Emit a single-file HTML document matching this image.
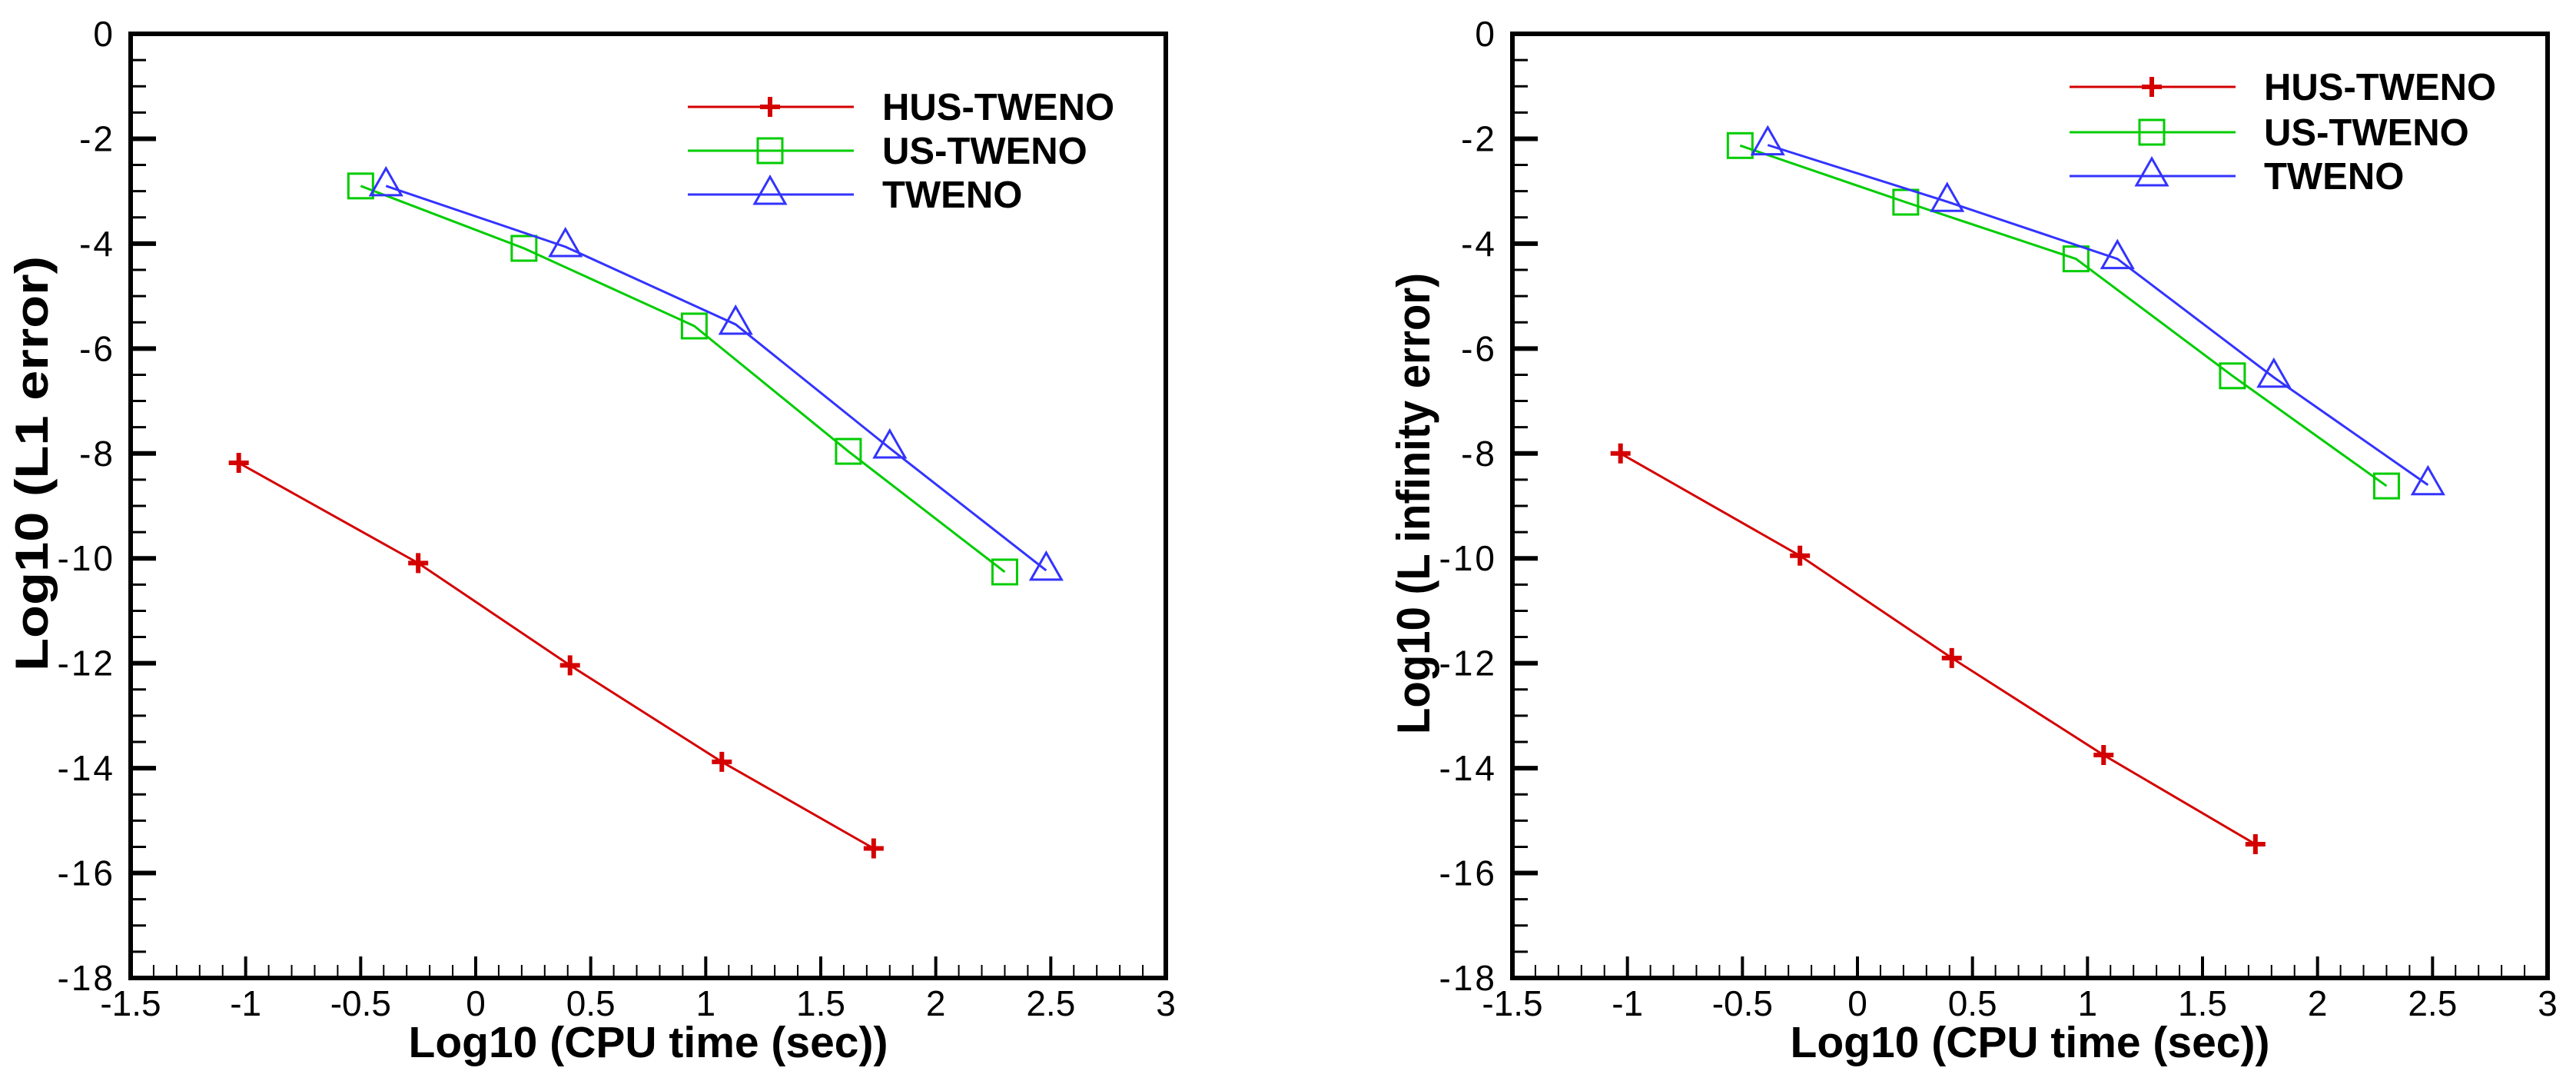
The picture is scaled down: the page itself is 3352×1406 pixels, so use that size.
<!DOCTYPE html>
<html><head><meta charset="utf-8"><style>
html,body{margin:0;padding:0;background:#fff;}
svg{display:block;font-family:"Liberation Sans",Arial,sans-serif;}
</style></head><body>
<svg id="chart" width="3352" height="1406" viewBox="0 0 3352 1406" xmlns="http://www.w3.org/2000/svg"></svg>
<script>
const xTicks = [-1.5,-1,-0.5,0,0.5,1,1.5,2,2.5,3];
const xTickLabels = ["-1.5","-1","-0.5","0","0.5","1","1.5","2","2.5","3"];
const yTicks = [0,-2,-4,-6,-8,-10,-12,-14,-16,-18];
const yTickLabels = ["0","-2","-4","-6","-8","-10","-12","-14","-16","-18"];
const seriesNames = ["HUS-TWENO","US-TWENO","TWENO"];
// left panel (L1 error)
const l1HusX = [-1.03,-0.25,0.41,1.07,1.73];
const l1HusY = [-8.18,-10.09,-12.04,-13.88,-15.53];
const l1UsX = [-0.5,0.21,0.95,1.62,2.3];
const l1UsY = [-2.9,-4.09,-5.57,-7.96,-10.26];
const l1TwX = [-0.39,0.39,1.13,1.8,2.48];
const l1TwY = [-2.9,-4.06,-5.54,-7.9,-10.23];
// right panel (L infinity error)
const liHusX = [-1.03,-0.25,0.41,1.07,1.73];
const liHusY = [-8.0,-9.95,-11.9,-13.75,-15.45];
const liUsX = [-0.51,0.21,0.95,1.63,2.3];
const liUsY = [-2.13,-3.21,-4.29,-6.52,-8.62];
const liTwX = [-0.39,0.39,1.13,1.81,2.48];
const liTwY = [-2.12,-3.2,-4.29,-6.55,-8.6];

const NS="http://www.w3.org/2000/svg";
const svg=document.getElementById('chart');
function mk(tag,attrs,parent){const e=document.createElementNS(NS,tag);for(const k in attrs)e.setAttribute(k,attrs[k]);(parent||svg).appendChild(e);return e;}
const colors=["#d40000","#00cc00","#3333ff"];

function drawPanel(x0,prefix,ytitle,ytx,yty,ylen,series){
  const x1=x0+1347, y0=44, y1=1272;
  const xs=v=>x0+(v-(-1.5))/(3-(-1.5))*(x1-x0);
  const ys=v=>y0+(0-v)/(0-(-18))*(y1-y0);
  const g=mk('g',{});
  
  
  for(let v=0;v>=-18;v-=0.5){
    const major=Math.abs(v/2-Math.round(v/2))<1e-6;
    const t=mk('line',{x1:x0,x2:x0+(major?33:20),y1:ys(v),y2:ys(v),stroke:'#000','stroke-width':major?6:3},g);
    
    
  }
  for(let i=0;i<=45;i++){
    const v=-1.5+i*0.1;
    const major=i%5===0;
    const t=mk('line',{x1:xs(v),x2:xs(v),y1:y1,y2:y1-(major?28:17),stroke:'#000','stroke-width':major?4:2},g);
    
    
  }
  const box=mk('rect',{x:x0,y:y0,width:x1-x0,height:y1-y0,fill:'none',stroke:'#000','stroke-width':6},g);
  
  
  yTicks.forEach((v,i)=>{
    const t=mk('text',{x:x0-20,y:ys(v)+16,'text-anchor':'end','font-size':46,fill:'#000','letter-spacing':3},g);
    t.textContent=yTickLabels[i];
    
    
  });
  xTicks.forEach((v,i)=>{
    const t=mk('text',{x:xs(v),y:1321,'text-anchor':'middle','font-size':46,fill:'#000'},g);
    t.textContent=xTickLabels[i];
    
    
  });
  const xt=mk('text',{x:(x0+x1)/2,y:1375,'text-anchor':'middle','font-size':57,'font-weight':'bold',fill:'#000'},g);
  xt.textContent='Log10 (CPU time (sec))';
  
  
  const yt=mk('text',{x:0,y:0,'text-anchor':'middle','font-size':60,'font-weight':'bold',fill:'#000',textLength:ylen,lengthAdjust:'spacingAndGlyphs',transform:`translate(${ytx},${yty}) rotate(-90)`},g);
  yt.textContent=ytitle;
  
  

  function marker(kind,cx,cy,col,parent){
    let m;
    if(kind===0){
      m=mk('path',{d:`M${cx-13},${cy}H${cx+13}M${cx},${cy-13}V${cy+13}`,stroke:col,'stroke-width':6,fill:'none'},parent);
    }else if(kind===1){
      m=mk('rect',{x:cx-16,y:cy-16,width:32,height:32,fill:'none',stroke:col,'stroke-width':3},parent);
    }else{
      m=mk('path',{d:`M${cx},${cy-23}L${cx+20},${cy+12}L${cx-20},${cy+12}Z`,fill:'none',stroke:col,'stroke-width':3},parent);
    }
    return m;
  }
  series.forEach((s,k)=>{
    const sg=mk('g',{},g);
    
    
    const pts=s.x.map((v,i)=>xs(v)+','+ys(s.y[i])).join(' ');
    const pl=mk('polyline',{points:pts,fill:'none',stroke:colors[k],'stroke-width':3},sg);
    
    
    s.x.forEach((v,i)=>{
      const m=marker(k,xs(v),ys(s.y[i]),colors[k],sg);
      
      
    });
  });
  const lg=mk('g',{},g);
  
  
  const lx=x0+725;
  const rowY = prefix==='left'?[139,196,253]:[113,172,229];
  seriesNames.forEach((n,k)=>{
    const eg=mk('g',{},lg);
    
    
    mk('line',{x1:lx,x2:lx+216,y1:rowY[k],y2:rowY[k],stroke:colors[k],'stroke-width':3},eg);
    marker(k,lx+107,rowY[k],colors[k],eg);
    const t=mk('text',{x:lx+253,y:rowY[k]+17,'font-size':49,'font-weight':'bold',fill:'#000'},eg);
    t.textContent=n;
  });
}
drawPanel(170,'left','Log10 (L1 error)',62,603,540,[{x:l1HusX,y:l1HusY},{x:l1UsX,y:l1UsY},{x:l1TwX,y:l1TwY}]);
drawPanel(1968,'right','Log10 (L infinity error)',1860,655,600,[{x:liHusX,y:liHusY},{x:liUsX,y:liUsY},{x:liTwX,y:liTwY}]);
</script>
</body></html>
